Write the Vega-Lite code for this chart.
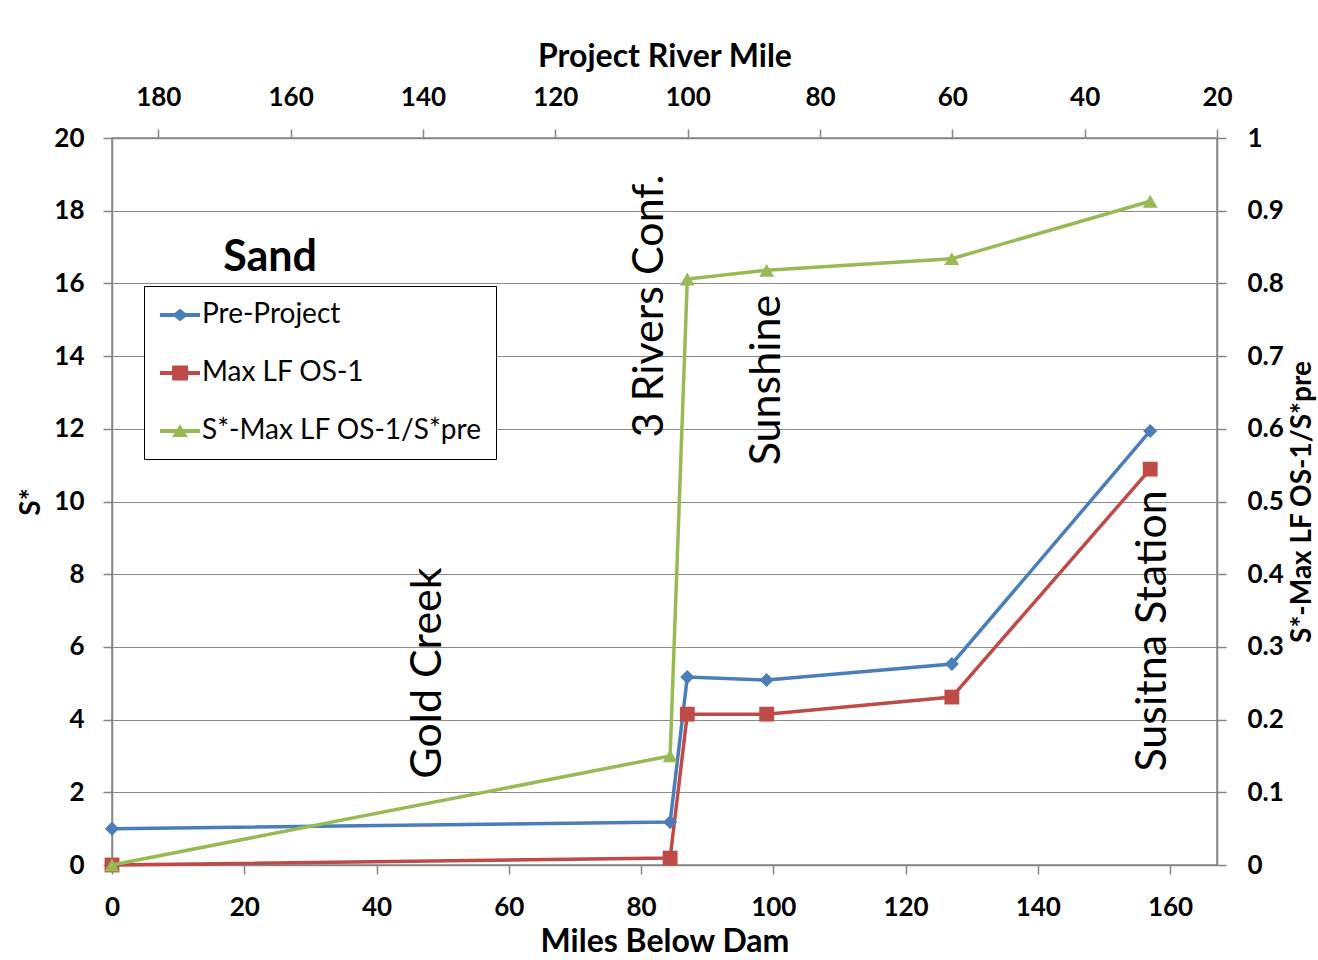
{
  "$schema": "https://vega.github.io/schema/vega-lite/v6.json",
  "width": 1105,
  "height": 727,
  "autosize": "none",
  "padding": {"left": 112, "top": 138, "right": 101, "bottom": 95},
  "background": "white",
  "config": {
    "font": "Lato",
    "view": {"stroke": "#868686", "strokeWidth": 1.5},
    "axis": {
      "labelFont": "Lato", "labelFontSize": 26, "labelFontWeight": "bold", "labelColor": "#000",
      "titleFont": "Lato", "titleFontSize": 28, "titleFontWeight": "bold", "titleColor": "#000",
      "domainColor": "#868686", "domainWidth": 1.5,
      "tickColor": "#868686", "tickWidth": 1.5, "tickSize": 9,
      "gridColor": "#8c8c8c", "gridWidth": 1.2
    }
  },
  "datasets": {
    "series": [
      {"series": "Pre-Project", "mbd": 0, "prm": 187, "v": 1.0},
      {"series": "Pre-Project", "mbd": 84.4, "prm": 102.6, "v": 1.18},
      {"series": "Pre-Project", "mbd": 87, "prm": 100, "v": 5.17},
      {"series": "Pre-Project", "mbd": 99, "prm": 88, "v": 5.09},
      {"series": "Pre-Project", "mbd": 127, "prm": 60, "v": 5.53},
      {"series": "Pre-Project", "mbd": 157, "prm": 30, "v": 11.94},
      {"series": "Max LF OS-1", "mbd": 0, "prm": 187, "v": 0.0},
      {"series": "Max LF OS-1", "mbd": 84.4, "prm": 102.6, "v": 0.19},
      {"series": "Max LF OS-1", "mbd": 87, "prm": 100, "v": 4.15},
      {"series": "Max LF OS-1", "mbd": 99, "prm": 88, "v": 4.15},
      {"series": "Max LF OS-1", "mbd": 127, "prm": 60, "v": 4.62},
      {"series": "Max LF OS-1", "mbd": 157, "prm": 30, "v": 10.89},
      {"series": "S*-Max LF OS-1/S*pre", "mbd": 0, "prm": 187, "v": 0.0},
      {"series": "S*-Max LF OS-1/S*pre", "mbd": 84.4, "prm": 102.6, "v": 0.15},
      {"series": "S*-Max LF OS-1/S*pre", "mbd": 87, "prm": 100, "v": 0.806},
      {"series": "S*-Max LF OS-1/S*pre", "mbd": 99, "prm": 88, "v": 0.818},
      {"series": "S*-Max LF OS-1/S*pre", "mbd": 127, "prm": 60, "v": 0.834},
      {"series": "S*-Max LF OS-1/S*pre", "mbd": 157, "prm": 30, "v": 0.913}
    ],
    "heading": [
      {"label": "Sand", "mbd": 23.9, "v": 16.7}
    ],
    "places": [
      {"label": "Gold Creek", "mbd": 47.8, "v": 5.28},
      {"label": "3 Rivers Conf.", "mbd": 81.4, "v": 15.38},
      {"label": "Sunshine", "mbd": 99.05, "v": 13.34},
      {"label": "Susitna Station", "mbd": 157.4, "v": 6.44}
    ]
  },
  "layer": [
    {
      "data": {"name": "series"},
      "transform": [{"filter": "datum.series === 'S*-Max LF OS-1/S*pre'"}],
      "mark": {"type": "rule", "opacity": 0},
      "encoding": {
        "x": {
          "field": "prm", "type": "quantitative",
          "scale": {"domain": [20, 187], "reverse": true, "nice": false, "zero": false},
          "axis": {"orient": "top", "title": "Project River Mile", "titleFontSize": 32, "values": [20, 40, 60, 80, 100, 120, 140, 160, 180], "labelFlush": false, "labelPadding": 19, "titlePadding": 11, "grid": false}
        }
      }
    },
    {
      "data": {"name": "places"},
      "mark": {"type": "text", "angle": 270, "align": "center", "baseline": "middle", "font": "Lato", "fontSize": 43, "color": "#000"},
      "encoding": {
        "x": {"field": "mbd", "type": "quantitative", "scale": {"domain": [0, 167.1], "nice": false, "zero": false}, "axis": null},
        "y": {"field": "v", "type": "quantitative", "scale": {"domain": [0, 20], "nice": false}, "axis": null},
        "text": {"field": "label"}
      }
    },
    {
      "data": {"name": "heading"},
      "mark": {"type": "text", "align": "center", "baseline": "middle", "font": "Lato", "fontSize": 43, "fontWeight": "bold", "color": "#000"},
      "encoding": {
        "x": {"field": "mbd", "type": "quantitative", "scale": {"domain": [0, 167.1], "nice": false, "zero": false}, "axis": null},
        "y": {"field": "v", "type": "quantitative", "scale": {"domain": [0, 20], "nice": false}, "axis": null},
        "text": {"field": "label"}
      }
    },
    {
      "data": {"name": "series"},
      "mark": {"type": "point", "filled": true, "opacity": 0},
      "encoding": {
        "x": {"field": "mbd", "type": "quantitative", "scale": {"domain": [0, 167.1], "nice": false, "zero": false}, "axis": null},
        "y": {"field": "v", "type": "quantitative", "scale": {"domain": [0, 20], "nice": false}, "axis": null},
        "color": {
          "field": "series", "type": "nominal",
          "scale": {"domain": ["Pre-Project", "Max LF OS-1", "S*-Max LF OS-1/S*pre"], "range": ["#4A7EBB", "#BE4B48", "#98B954"]},
          "legend": {
            "title": null, "orient": "none", "legendX": 32, "legendY": 148, "direction": "vertical",
            "strokeColor": "#000", "fillColor": "#fff", "padding": 14,
            "labelFont": "Lato", "labelFontSize": 28, "labelFontWeight": "normal", "labelColor": "#000", "labelLimit": 600,
            "symbolSize": 900, "symbolOpacity": 1, "symbolStrokeWidth": 0, "rowPadding": 29, "labelOffset": 14
          }
        },
        "shape": {
          "field": "series", "type": "nominal",
          "scale": {
            "domain": ["Pre-Project", "Max LF OS-1", "S*-Max LF OS-1/S*pre"],
            "range": [
              "M-0.87,-0.13H1.8V0.13H-0.87Z M0.47,-0.42L1,0L0.47,0.42L-0.06,0Z",
              "M-0.87,-0.13H1.8V0.13H-0.87Z M-0.06,-0.5H1V0.5H-0.06Z",
              "M-0.87,-0.13H1.8V0.13H-0.87Z M0.47,-0.45L1,0.4L-0.06,0.4Z"
            ]
          },
          "legend": {
            "title": null, "orient": "none", "legendX": 32, "legendY": 148, "direction": "vertical",
            "strokeColor": "#000", "fillColor": "#fff", "padding": 14,
            "labelFont": "Lato", "labelFontSize": 28, "labelFontWeight": "normal", "labelColor": "#000", "labelLimit": 600,
            "symbolSize": 900, "symbolOpacity": 1, "symbolStrokeWidth": 0, "rowPadding": 29, "labelOffset": 14
          }
        }
      }
    },
    {
      "data": {"name": "series"},
      "transform": [{"filter": "datum.series !== 'S*-Max LF OS-1/S*pre'"}],
      "encoding": {
        "x": {
          "field": "mbd", "type": "quantitative",
          "scale": {"domain": [0, 167.1], "nice": false, "zero": false},
          "axis": {"orient": "bottom", "title": "Miles Below Dam", "titleFontSize": 32, "values": [0, 20, 40, 60, 80, 100, 120, 140, 160], "labelFlush": false, "labelPadding": 20, "titlePadding": 6, "grid": false}
        },
        "y": {
          "field": "v", "type": "quantitative",
          "scale": {"domain": [0, 20], "nice": false},
          "axis": {"orient": "left", "title": "S*", "values": [0, 2, 4, 6, 8, 10, 12, 14, 16, 18, 20], "labelPadding": 19, "titlePadding": 8, "grid": true}
        },
        "color": {
          "field": "series", "type": "nominal",
          "scale": {"domain": ["Pre-Project", "Max LF OS-1", "S*-Max LF OS-1/S*pre"], "range": ["#4A7EBB", "#BE4B48", "#98B954"]},
          "legend": null
        }
      },
      "layer": [
        {"mark": {"type": "line", "strokeWidth": 3.5}},
        {
          "transform": [{"filter": "datum.series === 'Pre-Project'"}],
          "mark": {"type": "point", "shape": "diamond", "size": 200, "filled": true, "opacity": 1}
        },
        {
          "transform": [{"filter": "datum.series === 'Max LF OS-1'"}],
          "mark": {"type": "point", "shape": "square", "size": 220, "filled": true, "opacity": 1}
        }
      ]
    },
    {
      "data": {"name": "series"},
      "transform": [{"filter": "datum.series === 'S*-Max LF OS-1/S*pre'"}],
      "encoding": {
        "x": {"field": "mbd", "type": "quantitative", "scale": {"domain": [0, 167.1], "nice": false, "zero": false}, "axis": null},
        "y": {
          "field": "v", "type": "quantitative",
          "scale": {"domain": [0, 1], "nice": false},
          "axis": {"orient": "right", "title": "S*-Max LF OS-1/S*pre", "values": [0, 0.1, 0.2, 0.3, 0.4, 0.5, 0.6, 0.7, 0.8, 0.9, 1], "format": "~g", "labelPadding": 21, "titlePadding": 5, "titleAngle": 270, "titleBaseline": "top", "grid": false}
        },
        "color": {
          "field": "series", "type": "nominal",
          "scale": {"domain": ["Pre-Project", "Max LF OS-1", "S*-Max LF OS-1/S*pre"], "range": ["#4A7EBB", "#BE4B48", "#98B954"]},
          "legend": null
        }
      },
      "layer": [
        {"mark": {"type": "line", "strokeWidth": 3.5}},
        {"mark": {"type": "point", "shape": "triangle-up", "size": 220, "filled": true, "opacity": 1}}
      ]
    }
  ],
  "resolve": {"scale": {"x": "independent", "y": "independent"}}
}
